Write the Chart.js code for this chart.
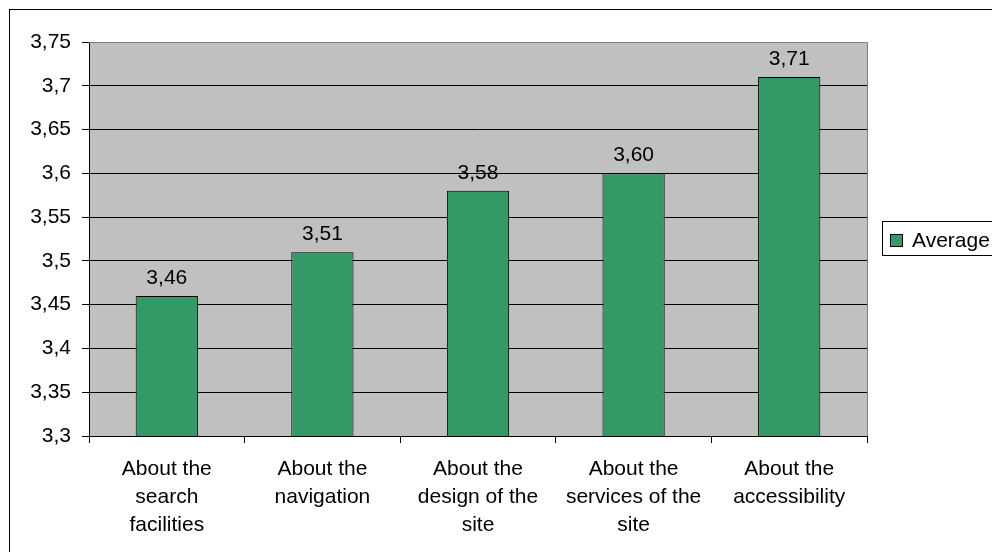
<!DOCTYPE html>
<html>
<head>
<meta charset="utf-8">
<script src="https://cdn.jsdelivr.net/npm/chart.js@4.4.1/dist/chart.umd.min.js"></script>
<style>
html,body{margin:0;padding:0;background:#fff;}
#wrap{width:992px;height:552px;}
</style>
</head>
<body>
<div id="wrap"><canvas id="c" width="992" height="552"></canvas></div>
<script>
const categories = [
  ["About the","search","facilities"],
  ["About the","navigation"],
  ["About the","design of the","site"],
  ["About the","services of the","site"],
  ["About the","accessibility"]
];
const seriesName = "Average";
const averageValues = [3.46, 3.51, 3.58, 3.60, 3.71];
const yTickLabels = ["3,3","3,35","3,4","3,45","3,5","3,55","3,6","3,65","3,7","3,75"];

const FONT = "'Liberation Sans', Arial, sans-serif";
const BAR = "#339966";

const decor = {
  id: 'decor',
  beforeDraw(chart) {
    const ctx = chart.ctx, a = chart.chartArea;
    ctx.save();
    ctx.fillStyle = '#fff';
    ctx.fillRect(0, 0, chart.width, chart.height);
    ctx.fillStyle = '#C0C0C0';
    ctx.fillRect(a.left, a.top, a.right - a.left, a.bottom - a.top);
    ctx.strokeStyle = '#000';
    ctx.lineWidth = 1;
    ctx.strokeRect(9.5, 9.5, 1100, 600);
    ctx.restore();
  },
  beforeDatasetsDraw(chart) {
    const ctx = chart.ctx, a = chart.chartArea;
    ctx.save();
    ctx.strokeStyle = '#808080';
    ctx.lineWidth = 1;
    ctx.beginPath();
    ctx.moveTo(a.left, Math.round(a.top) + 0.5);
    ctx.lineTo(Math.round(a.right) + 0.5, Math.round(a.top) + 0.5);
    ctx.lineTo(Math.round(a.right) + 0.5, a.bottom);
    ctx.stroke();
    ctx.restore();
  },
  afterDatasetsDraw(chart) {
    const ctx = chart.ctx;
    const meta = chart.getDatasetMeta(0);
    const vals = chart.data.datasets[0].data;
    ctx.save();
    ctx.fillStyle = '#000';
    ctx.font = '21px ' + FONT;
    ctx.textAlign = 'center';
    ctx.textBaseline = 'alphabetic';
    meta.data.forEach((bar, i) => {
      ctx.fillText(vals[i].toFixed(2).replace('.', ','), bar.x, bar.y - 12);
    });
    const ds = chart.data.datasets[0];
    ctx.fillStyle = '#fff';
    ctx.fillRect(882, 221, 120, 34);
    ctx.strokeStyle = '#000';
    ctx.lineWidth = 1;
    ctx.strokeRect(882.5, 221.5, 120, 34);
    ctx.fillStyle = ds.backgroundColor;
    ctx.fillRect(890.5, 234.5, 12, 12);
    ctx.strokeRect(890.5, 234.5, 12, 12);
    ctx.fillStyle = '#000';
    ctx.textAlign = 'left';
    ctx.fillText(ds.label, 912, 247);
    ctx.restore();
  }
};

new Chart(document.getElementById('c'), {
  type: 'bar',
  data: {
    labels: categories,
    datasets: [{
      label: seriesName,
      data: averageValues,
      backgroundColor: BAR,
      borderColor: '#000',
      borderWidth: 1,
      borderSkipped: 'start',
      categoryPercentage: 1.0,
      barPercentage: 0.4
    }]
  },
  options: {
    responsive: false,
    animation: false,
    devicePixelRatio: 1,
    layout: { padding: { left: 0, top: 42, right: 125, bottom: 0 } },
    plugins: { legend: { display: false }, tooltip: { enabled: false } },
    scales: {
      x: {
        offset: true,
        grid: { display: true, drawOnChartArea: false, offset: true, color: '#000', tickLength: 7 },
        border: { display: true, color: '#000' },
        ticks: { color: '#000', font: { family: FONT, size: 21, lineHeight: 1.33 }, padding: 12, maxRotation: 0, autoSkip: false },
        afterFit(s) { s.height = 116; }
      },
      y: {
        min: 3.3, max: 3.75,
        grid: { color: '#000', tickLength: 7, tickColor: '#000' },
        border: { display: true, color: '#000' },
        ticks: {
          stepSize: 0.05,
          color: '#000',
          padding: 11,
          font: { family: FONT, size: 21 },
          callback: (v, i) => yTickLabels[i]
        },
        afterFit(s) { s.width = 89; }
      }
    }
  },
  plugins: [decor]
});
</script>
</body>
</html>
